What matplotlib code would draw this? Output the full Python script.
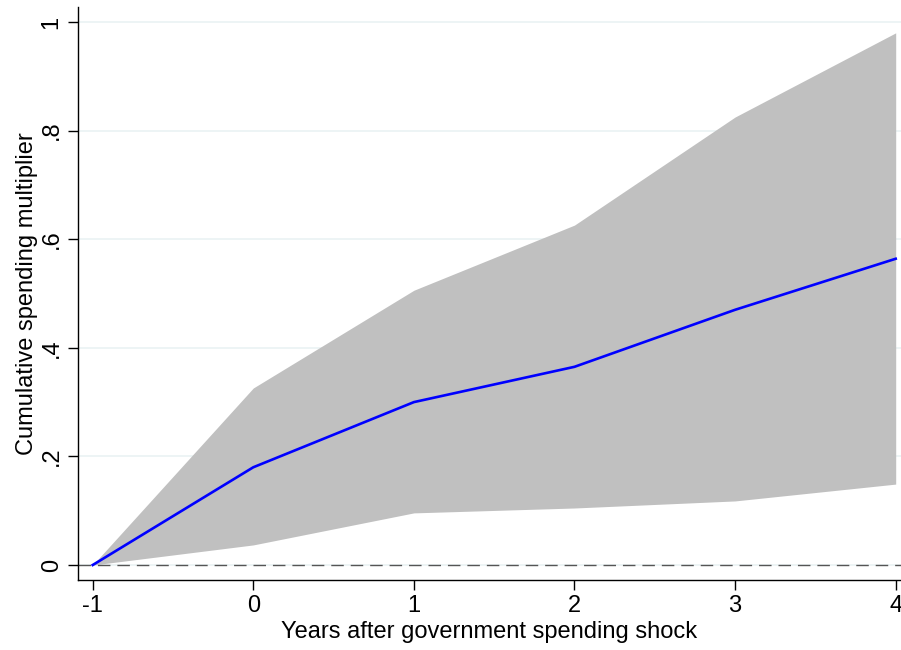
import matplotlib
matplotlib.use("Agg")
import matplotlib.pyplot as plt

# horizon (years after shock)
years = [-1, 0, 1, 2, 3, 4]
# cumulative multiplier and 90% band
multiplier = [0.0, 0.180, 0.300, 0.365, 0.470, 0.564]
upper = [0.0, 0.326, 0.506, 0.626, 0.825, 0.980]
lower = [0.0, 0.037, 0.096, 0.105, 0.118, 0.149]

yticks = [0, 0.2, 0.4, 0.6, 0.8, 1.0]
ytick_labels = ["0", ".2", ".4", ".6", ".8", "1"]

plt.rcParams['font.family'] = ['Liberation Sans', 'DejaVu Sans']

fig = plt.figure(figsize=(9.01, 6.5), dpi=100)
ax = fig.add_axes([78 / 901, 70 / 650, 823 / 901, 573 / 650])

# light grid lines
for t in yticks:
    ax.axhline(t, color='#eaf2f3', lw=1.2, zorder=0)

ax.fill_between(years, lower, upper, color='#c0c0c0', lw=0, zorder=1)
ax.axhline(0, color='#555555', lw=1.0, ls=(0, (9, 5)), zorder=2)
ax.plot(years, multiplier, color='#0000ff', lw=1.9, zorder=3)

ax.set_xlim(-1.0915, 4.033)
ax.set_ylim(-0.0276, 1.0276)

ax.set_xticks(years)
ax.set_xticklabels([str(y) for y in years], fontsize=17)
ax.set_yticks(yticks)
ax.set_yticklabels(ytick_labels, fontsize=17, rotation=90, va='center')
ax.tick_params(direction='out', length=7, width=1, pad=4)

for s in ['top', 'right']:
    ax.spines[s].set_visible(False)
ax.spines['left'].set_linewidth(1)
ax.spines['bottom'].set_linewidth(1)

ax.set_xlabel("Years after government spending shock", fontsize=17, labelpad=3)
ax.set_ylabel("Cumulative spending multiplier", fontsize=17, labelpad=2)

fig.savefig("out.png", dpi=100)
